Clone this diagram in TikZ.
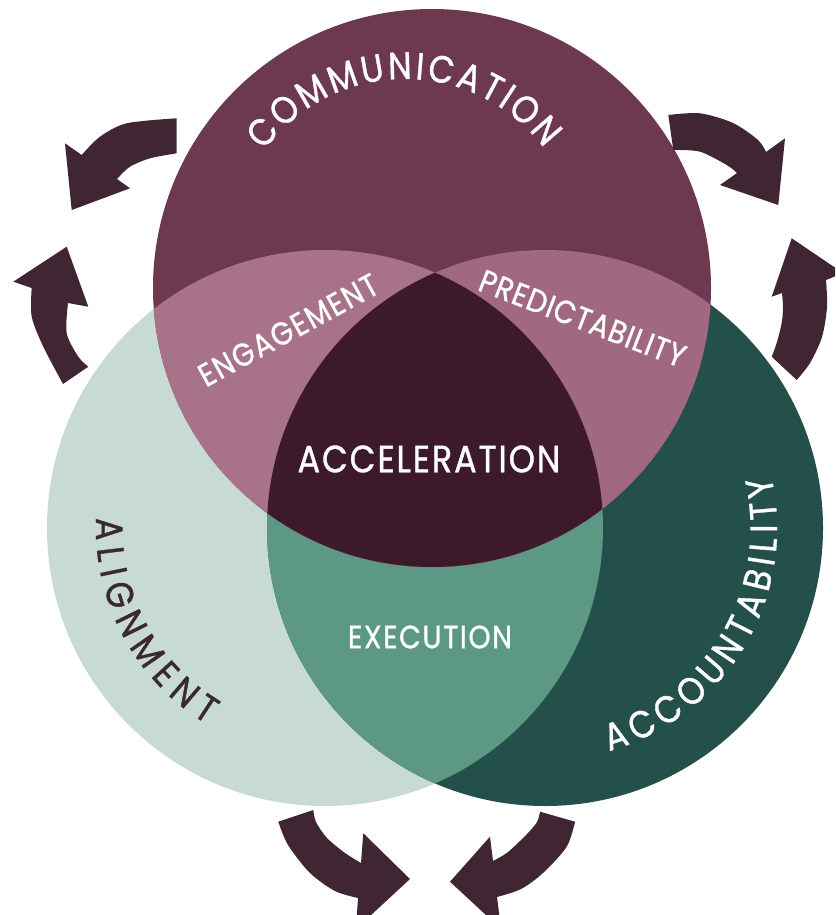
\documentclass[tikz,border=0pt]{standalone}
\usepackage{fontspec}
\newfontfamily\vfont[FakeStretch=0.88,FakeBold=1]{Poppins}
\newfontfamily\vfontsp[FakeStretch=0.88,FakeBold=1,LetterSpace=5]{Poppins}
\newfontfamily\vfontpr[FakeStretch=0.88,FakeBold=1,LetterSpace=3]{Poppins}
\usetikzlibrary{decorations.text}
\definecolor{commc}{HTML}{6C3950}
\definecolor{alignc}{HTML}{C8DAD4}
\definecolor{accoc}{HTML}{23504A}
\definecolor{engc}{HTML}{A87389}
\definecolor{predc}{HTML}{A06980}
\definecolor{accelc}{HTML}{3C1A2B}
\definecolor{execc}{HTML}{5C9884}
\definecolor{arrc}{HTML}{402533}
\definecolor{darktxt}{HTML}{3A2A2C}
\newcommand\fbig{\vfont\fontsize{38}{38}\selectfont}
\tikzset{
  arr/.style={fill=arrc},
  flat/.style={inner sep=0pt, text=white},
  arctext/.style={decorate, decoration={text along path, text align=fit to path, text color=#1}},
}
\begin{document}
\begin{tikzpicture}[x=1pt,y=1pt]
\useasboundingbox (0,-915) rectangle (835,0);
\clip (0,-915) rectangle (835,0);
\fill[white] (0,-915) rectangle (835,0);
% base circles
\fill[alignc] (325,-528) circle[radius=278];
\fill[accoc] (545,-528) circle[radius=278];
\begin{scope}
  \clip (325,-528) circle[radius=278];
  \fill[execc] (545,-528) circle[radius=278];
\end{scope}
\fill[commc] (432,-288) circle[radius=279];
\begin{scope}
  \clip (432,-288) circle[radius=279];
  \fill[engc] (325,-528) circle[radius=278];
  \fill[predc] (545,-528) circle[radius=278];
  \clip (325,-528) circle[radius=278];
  \fill[accelc] (545,-528) circle[radius=278];
\end{scope}
% arrows
\fill[arr] (176.7,-153.3) -- (176.7,-118.3) -- plot[smooth] coordinates {(176.7,-118.3) (126.7,-123.3) (100,-136.7) (81.7,-155)} -- (65,-143.3) -- (71.7,-210) -- (130,-188.3) -- (117,-179) -- plot[smooth] coordinates {(117,-179) (130,-166.7) (150,-158.3) (176.7,-153.3)} -- cycle;
\fill[arr] (673.3,-150) -- (668.3,-115) -- plot[smooth] coordinates {(668.3,-115) (700,-113.3) (733,-123) (758,-140) (766,-152)} -- (785,-138.3) -- (778.3,-205) -- (720,-185) -- (737,-173) -- plot[smooth] coordinates {(737,-173) (726.7,-165) (700,-151.7) (673.3,-150)} -- cycle;
\fill[arr] (88.3,-366.7) -- (63,-384) -- plot[smooth] coordinates {(63,-384) (43.3,-346.7) (31.7,-316.7) (31.7,-288)} -- (13.3,-281.7) -- (66.7,-246.7) -- (88.3,-306.7) -- (68,-303) -- plot[smooth] coordinates {(68,-303) (66.7,-333.3) (78.3,-356.7) (88.3,-366.7)} -- cycle;
\fill[arr] (771.7,-356.7) -- (796.7,-380) -- plot[smooth] coordinates {(796.7,-380) (810,-363) (822,-337) (827,-307) (826,-280)} -- (843,-273) -- (791.7,-238.3) -- (771.7,-296.7) -- (782,-293) -- plot[smooth] coordinates {(782,-293) (783,-307) (781.7,-323) (776.7,-343) (771.7,-356.7)} -- cycle;
\fill[arr] (313.3,-810) -- (278.3,-821.7) -- plot[smooth] coordinates {(278.3,-821.7) (288,-845) (310,-873) (335,-891) (358,-898)} -- (356,-929) -- (410,-879) -- (363.3,-833.3) -- (361,-863) -- plot[smooth] coordinates {(361,-863) (345,-853) (327,-838) (316,-822) (313.3,-810)} -- cycle;
\fill[arr] (540,-811.7) -- (575,-821.7) -- plot[smooth] coordinates {(575,-821.7) (566.7,-846.7) (543,-873) (521,-889) (497,-897)} -- (501,-929) -- (450,-881.7) -- (490,-836.7) -- (493,-861) -- plot[smooth] coordinates {(493,-861) (508,-852) (527,-834) (537,-822) (540,-811.7)} -- cycle;
% arc texts
\path[arctext=white, decoration={text={|\fbig|COMMUNICATION}}] ([shift={(144:174)}]405,-253) arc[start angle=144, end angle=37, radius=174];
\path[arctext=darktxt, decoration={text={|\fbig|ALIGNMENT}}] ([shift={(177.5:229)}]325,-528) arc[start angle=177.5, end angle=239, radius=229];
\path[arctext=white, decoration={text={|\fbig|ACCOUNTABILITY}}] ([shift={(-74:232)}]545,-528) arc[start angle=-74, end angle=13, radius=232];
% flat texts
\node[flat, rotate=28.6, font=\vfontsp\fontsize{32}{32}\selectfont] (eng) at (288.3,-330) {ENGAGEMENT};
\node[flat, rotate=-21, font=\vfontpr\fontsize{32}{32}\selectfont] (pred) at (582.5,-318.5) {PREDICTABILITY};
\node[flat, font=\vfontsp\fontsize{38}{38}\selectfont] (accel) at (429,-459) {ACCELERATION};
\node[flat, font=\vfontsp\fontsize{32}{32}\selectfont] (exec) at (430,-637) {EXECUTION};
\end{tikzpicture}
\end{document}
